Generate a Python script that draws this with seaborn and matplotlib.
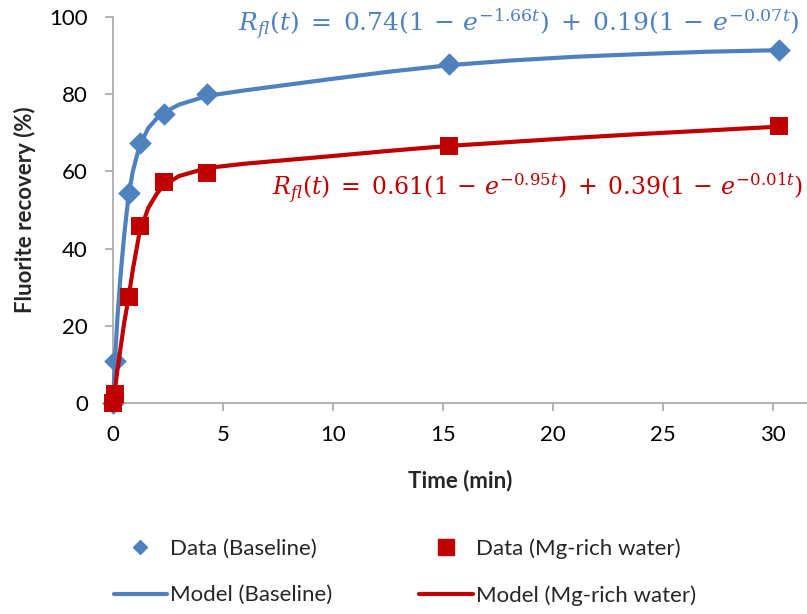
import matplotlib
matplotlib.use('Agg')
import pandas as pd
import matplotlib.pyplot as plt
import seaborn as sns
from matplotlib.lines import Line2D

# values
time_data = [0, 0.08, 0.72, 1.22, 2.32, 4.27, 15.25, 30.25]
baseline_data = [0, 10.9, 54.5, 67.4, 75.0, 80.0, 87.9, 91.5]
mg_data = [0, 2.3, 27.4, 45.9, 57.2, 59.7, 66.7, 71.7]

model_time = [0, 0.08, 0.2, 0.35, 0.5, 0.7, 0.9, 1.2, 1.6, 2.0, 2.3, 3.0, 4.3,
              6, 8, 10, 12.5, 15.25, 18, 21, 24, 27, 30.25]
baseline_model = [0, 10, 22, 33.5, 43, 53.5, 60, 66.5, 71.2, 73.8, 75.2, 77.3, 79.6,
                  81.0, 82.5, 84.0, 85.8, 87.5, 88.7, 89.7, 90.4, 91.0, 91.4]
mg_model = [0, 3, 8.5, 14.5, 20.5, 27, 34.5, 44, 50.5, 54.3, 56.3, 58.8, 60.9,
            62.0, 63.0, 64.0, 65.3, 66.6, 67.6, 68.7, 69.7, 70.6, 71.6]

eq_baseline = r'$R_{fl}(t)\;=\;0.74(1\,-\,e^{-1.66t})\;+\;0.19(1\,-\,e^{-0.07t})$'
eq_mg = r'$R_{fl}(t)\;=\;0.61(1\,-\,e^{-0.95t})\;+\;0.39(1\,-\,e^{-0.01t})$'

blue = '#4F81BD'
red = '#C00000'
grey = '#A6A6A6'

sns.set_theme(style='white')
plt.rcParams['font.family'] = ['Lato', 'DejaVu Sans']
plt.rcParams['mathtext.fontset'] = 'dejavuserif'

df_data = pd.DataFrame({'t': time_data, 'base': baseline_data, 'mg': mg_data})
df_model = pd.DataFrame({'t': model_time, 'base': baseline_model, 'mg': mg_model})

fig = plt.figure(figsize=(8.07, 6.14), dpi=100)
ax = fig.add_axes([113 / 807, 1 - 403 / 614, 694 / 807, 386 / 614])

# series order: blue line, blue points, red line, red points
sns.lineplot(data=df_model, x='t', y='base', ax=ax, color=blue, linewidth=3,
             sort=False, estimator=None, zorder=3, clip_on=False)
sns.scatterplot(data=df_data, x='t', y='base', ax=ax, marker='D', s=11.5 ** 2,
                color=blue, edgecolor=blue, linewidth=0, zorder=4, clip_on=False)
sns.lineplot(data=df_model, x='t', y='mg', ax=ax, color=red, linewidth=3,
             sort=False, estimator=None, zorder=5, clip_on=False)
sns.scatterplot(data=df_data, x='t', y='mg', ax=ax, marker='s', s=13 ** 2,
                color=red, edgecolor=red, linewidth=0, zorder=6, clip_on=False)

ax.set_xlim(0, 31.53)
ax.set_ylim(0, 100)
ax.set_xticks(range(0, 31, 5))
ax.set_yticks(range(0, 101, 20))

sns.despine(ax=ax)
for side in ['left', 'bottom']:
    ax.spines[side].set_color(grey)
    ax.spines[side].set_linewidth(1.2)
ax.tick_params(axis='both', which='major', direction='out', length=6, width=1.2,
               color=grey, labelsize=16, labelcolor='black')
ax.tick_params(axis='x', pad=10, bottom=True)
ax.tick_params(axis='y', pad=12, left=True)

ax.set_xlabel('Time (min)', fontsize=16, fontweight='bold')
ax.set_ylabel('Fluorite recovery (%)', fontsize=16, fontweight='bold')
ax.xaxis.set_label_coords(0.5, -0.2)
ax.xaxis.label.set_va('center')
ax.yaxis.set_label_coords(-0.127, 0.5)
ax.yaxis.label.set_va('center')

fig.text(799 / 807, 1 - 31 / 614, eq_baseline, color=blue, fontsize=18,
         ha='right', va='baseline')
fig.text(803 / 807, 1 - 195 / 614, eq_mg, color=red, fontsize=17,
         ha='right', va='baseline')

handles = [
    Line2D([], [], linestyle='', marker='D', markersize=7, color=blue),
    Line2D([], [], color=blue, linewidth=3),
    Line2D([], [], linestyle='', marker='s', markersize=11, color=red),
    Line2D([], [], color=red, linewidth=3),
]
labels = ['Data (Baseline)', 'Model (Baseline)', 'Data (Mg-rich water)', 'Model (Mg-rich water)']
fig.legend(handles, labels, ncol=2, loc='center', bbox_to_anchor=(405 / 807, 1 - 572 / 614),
           frameon=False, fontsize=16, handlelength=2.4, handletextpad=0.15,
           columnspacing=3.9, labelspacing=1.2)

fig.savefig('out.png', dpi=100)
